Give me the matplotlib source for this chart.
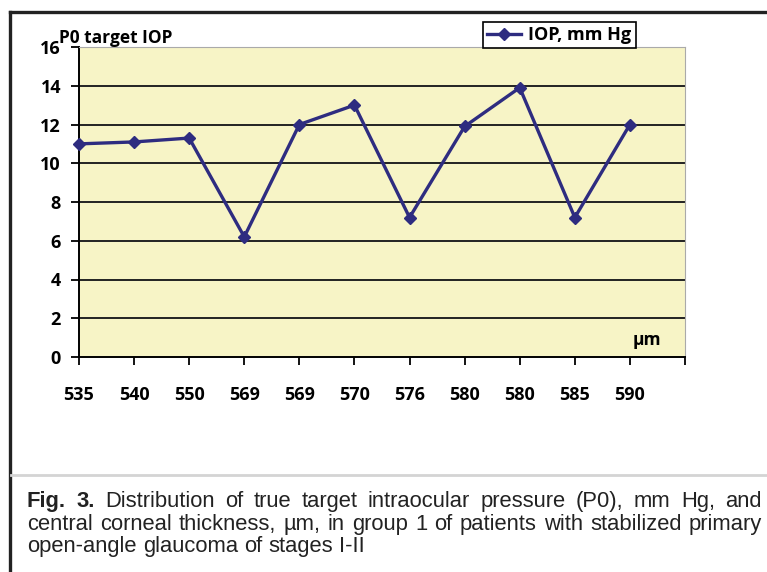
import numpy as np
import matplotlib.pyplot as plt
from matplotlib.lines import Line2D

# data
thickness = ['535', '540', '550', '569', '569', '570', '576', '580', '580', '585', '590']
iop = [11.0, 11.1, 11.3, 6.2, 12.0, 13.0, 7.2, 11.9, 13.9, 7.2, 12.0]
yticks = [0, 2, 4, 6, 8, 10, 12, 14, 16]

W, H = 767, 572
fig = plt.figure(figsize=(W / 100, H / 100), dpi=100)
ax = fig.add_axes([79 / W, 1 - 357 / H, 606 / W, 310 / H])
ax.set_facecolor('#f7f4c6')

x = np.arange(len(iop))
ax.plot(x, iop, color='#2e2c80', lw=2.4, marker='D', ms=6, label='IOP, mm Hg', zorder=3, clip_on=False)

bold = {'family': 'Open Sans', 'weight': 'bold', 'size': 13}
ax.set_xlim(0, len(iop))
ax.set_ylim(0, 16)
ax.set_yticks(yticks)
ax.set_yticklabels([str(v) for v in yticks], fontdict=bold)
ax.set_xticks(np.arange(len(iop) + 1))
ax.set_xticklabels(thickness + [''], fontdict=bold)
ax.tick_params(axis='x', length=6, width=1.3, pad=15, direction='out')
ax.tick_params(axis='y', length=6, width=1.3, pad=7, direction='out')
for v in yticks[1:-1]:
    ax.axhline(v, color='#222222', lw=1.4, zorder=1)
ax.spines['left'].set_linewidth(1.4)
ax.spines['bottom'].set_linewidth(1.4)
ax.spines['top'].set_color('#aaaaaa')
ax.spines['right'].set_color('#aaaaaa')

ax.text(-0.36, 16.2, 'P0 target IOP', fontdict={**bold, 'size': 12.5}, va='baseline', ha='left')
ax.text(10.05, 0.6, 'µm', fontdict={**bold, 'size': 12.5}, va='baseline', ha='left')

leg = ax.legend(loc='upper left', bbox_to_anchor=(483 / W, 1 - 22 / H), bbox_transform=fig.transFigure,
                prop={'family': 'Open Sans', 'weight': 'bold', 'size': 13}, frameon=True, fancybox=False,
                handlelength=1.9, handletextpad=0.4, borderpad=0.22, borderaxespad=0, framealpha=1)
leg.get_frame().set_edgecolor('black')
leg.get_frame().set_linewidth(1.2)

# outer frame and caption separator
fig.add_artist(Line2D([10 / W, 10 / W], [0, 1 - 12 / H], color='#222222', lw=2.4))
fig.add_artist(Line2D([10 / W, 1], [1 - 12 / H, 1 - 12 / H], color='#222222', lw=2.4))
fig.add_artist(Line2D([11 / W, 1], [1 - 475 / H, 1 - 475 / H], color='#d4d4d4', lw=2))

# caption, justified like the reference (last line ragged)
cap_font = ['Liberation Sans', 'DejaVu Sans']
cap_size = 15.8
x0, x1 = 27, 762
fig.canvas.draw()
rend = fig.canvas.get_renderer()


def put_line(words, ybase, justify):
    texts = []
    for w, b in words:
        t = fig.text(0, 1 - ybase / H, w, fontfamily=cap_font, fontsize=cap_size,
                     fontweight='bold' if b else 'normal', va='baseline', color='#222222')
        texts.append(t)
    widths = [t.get_window_extent(rend).width for t in texts]
    space = fig.text(0, 0, 'a b', fontfamily=cap_font, fontsize=cap_size).get_window_extent(rend).width - \
        2 * fig.text(0, 0, 'a', fontfamily=cap_font, fontsize=cap_size, alpha=0).get_window_extent(rend).width
    fig.texts[-2].remove()
    fig.texts[-1].remove()
    gap = (x1 - x0 - sum(widths)) / (len(texts) - 1) if justify else space
    xp = x0
    for t, w in zip(texts, widths):
        t.set_x(xp / W)
        xp += w + gap


line1 = [('Fig.', True), ('3.', True)] + [(w, False) for w in
         'Distribution of true target intraocular pressure (P0), mm Hg, and'.split()]
line2 = [(w, False) for w in 'central corneal thickness, µm, in group 1 of patients with stabilized primary'.split()]
line3 = [(w, False) for w in 'open-angle glaucoma of stages I-II'.split()]
put_line(line1, 507, True)
put_line(line2, 530, True)
put_line(line3, 552, False)

fig.savefig('out.png', dpi=100)
